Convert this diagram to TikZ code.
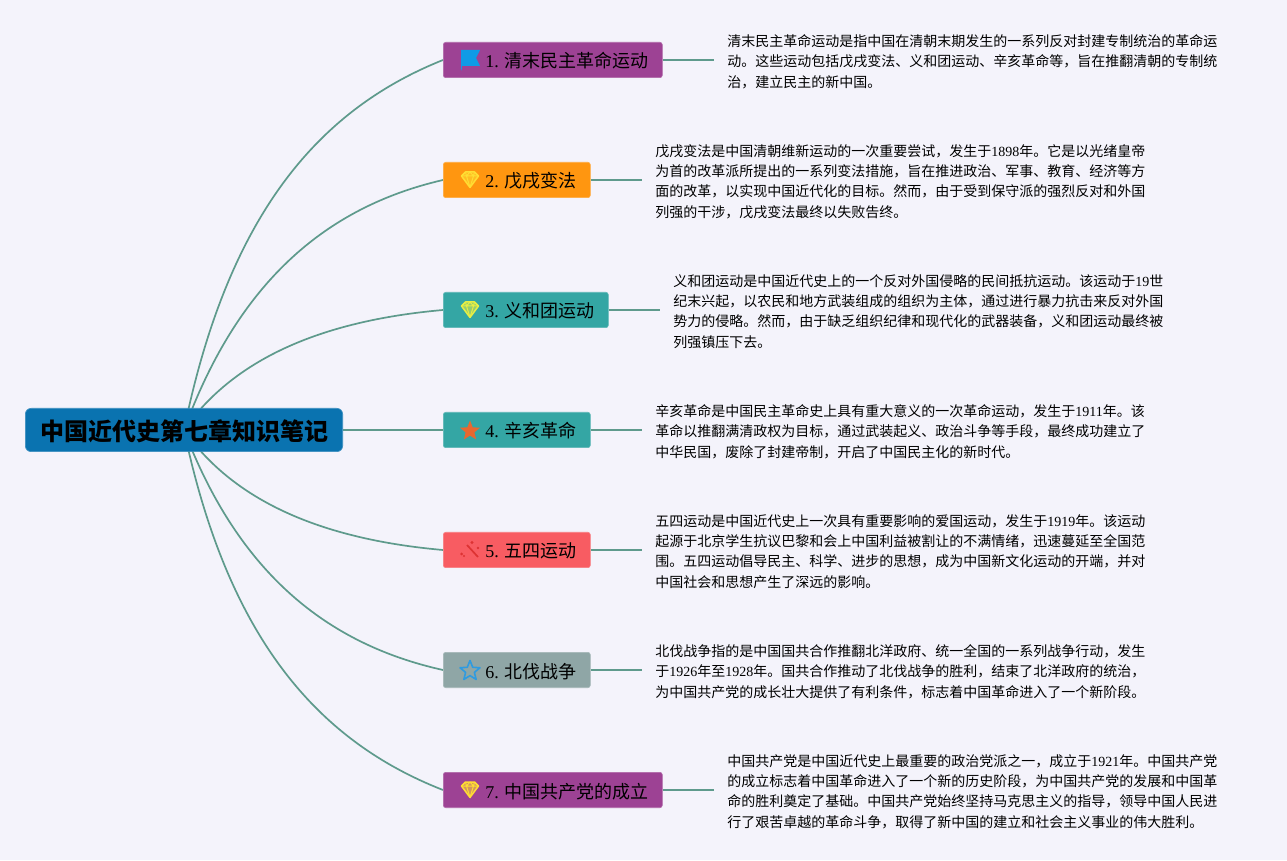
\documentclass[tikz,border=0pt]{standalone}
\usepackage{fontspec}
\setmainfont{Noto Sans CJK SC}
\newfontfamily\latin{Liberation Serif}
\newcommand{\lat}[1]{{\latin #1}}
\usetikzlibrary{positioning,backgrounds}
\definecolor{pagebg}{HTML}{F4F3FB}
\definecolor{linecol}{HTML}{5E9A8C}
\definecolor{rootcol}{HTML}{0A73B0}
\definecolor{purplecol}{HTML}{9D4294}
\definecolor{orangecol}{HTML}{FF9610}
\definecolor{tealcol}{HTML}{34A6A4}
\definecolor{redcol}{HTML}{F85C62}
\definecolor{greycol}{HTML}{8FA6A6}
\definecolor{iconblue}{HTML}{0F9BE6}
\definecolor{iconyellow}{HTML}{FFDD33}
\definecolor{iconlime}{HTML}{E8EE44}
\definecolor{iconorange}{HTML}{E8682F}
\definecolor{iconred}{HTML}{DD3333}
\definecolor{iconsky}{HTML}{2F9BE0}
\tikzset{
  gem/.pic={
    \fill[#1,opacity=.55] (-8.5,4) -- (-4.5,8) -- (4.5,8) -- (8.5,4) -- (0,-7.5) -- cycle;
    \draw[#1,line width=1.5pt,line join=round] (-8.5,4) -- (-4.5,8) -- (4.5,8) -- (8.5,4) -- (0,-7.5) -- cycle;
    \draw[#1,line width=1pt,line join=round] (-8.5,4) -- (8.5,4) (-4.5,8) -- (-3.5,4) -- (0,-7.5) -- (3.5,4) -- (4.5,8) (-3.5,4) -- (0,8) -- (3.5,4);
  },
  flag/.pic={
    \fill[#1] (-9,10) -- (10,10) -- (6,2) -- (10,-6) -- (-8,-6) -- (-8.4,-10.5) -- (-9,-10.5) -- cycle;
  },
  starpic/.pic={
    \path[#1,line join=round,yshift=-1pt] (90:10.5)
      \foreach \a in {126,162,...,414} {
        -- (\a:{ifthenelse(mod(\a-90,72)==0,10.5,4.6)})
      } -- cycle;
  },
  wand/.pic={
    \draw[#1,line width=1.7pt] (-3,5) -- (8,-7);
    \fill[#1] (-8.5,-4) circle (1.5) (-6,-6) circle (1.2) (2,7.5) circle (1.6) (8,2) circle (1.3);
  }
}
\begin{document}
\begin{tikzpicture}[
  x=1pt, y=1pt,
  rootbox/.style={rectangle, rounded corners=6pt, fill=rootcol, draw=rootcol!80!white, line width=.6pt, minimum width=317.4pt, minimum height=43.4pt, inner sep=0pt, text height=22pt, text depth=1pt, font=\fontsize{24}{24}\selectfont\bfseries},
  topicbox/.style={rectangle, rounded corners=2.5pt, fill=#1, draw=#1!80!white, line width=.6pt, minimum height=35.4pt, inner ysep=0pt, inner xsep=13.5pt, text height=17pt, text depth=1pt, font=\fontsize{18}{18}\selectfont},
  notetext/.style={inner sep=0pt, align=left, yshift=-1.5pt, font=\fontsize{14}{20.3}\selectfont},
  branch/.style={draw=linecol, line width=1.7pt}
]
\useasboundingbox (0,0) rectangle (1287,860);

\node[rootbox] (root) at (184,430) {中国近代史第七章知识笔记};

\node[topicbox=purplecol, anchor=west] (t1) at (443,800) {\hspace*{28.5pt}\lat{1. }清末民主革命运动};
\node[topicbox=orangecol, anchor=west] (t2) at (443,680) {\hspace*{28.5pt}\lat{2. }戊戌变法};
\node[topicbox=tealcol, anchor=west] (t3) at (443,550) {\hspace*{28.5pt}\lat{3. }义和团运动};
\node[topicbox=tealcol, anchor=west] (t4) at (443,430) {\hspace*{28.5pt}\lat{4. }辛亥革命};
\node[topicbox=redcol, anchor=west] (t5) at (443,310) {\hspace*{28.5pt}\lat{5. }五四运动};
\node[topicbox=greycol, anchor=west] (t6) at (443,190) {\hspace*{28.5pt}\lat{6. }北伐战争};
\node[topicbox=purplecol, anchor=west] (t7) at (443,70) {\hspace*{28.5pt}\lat{7. }中国共产党的成立};

\node[notetext, right=64.6pt of t1] (n1) {清末民主革命运动是指中国在清朝末期发生的一系列反对封建专制统治的革命运\\动。这些运动包括戊戌变法、义和团运动、辛亥革命等，旨在推翻清朝的专制统\\治，建立民主的新中国。};
\node[notetext, right=64.6pt of t2] (n2) {戊戌变法是中国清朝维新运动的一次重要尝试，发生于\lat{1898}年。它是以光绪皇帝\\为首的改革派所提出的一系列变法措施，旨在推进政治、军事、教育、经济等方\\面的改革，以实现中国近代化的目标。然而，由于受到保守派的强烈反对和外国\\列强的干涉，戊戌变法最终以失败告终。};
\node[notetext, right=64.6pt of t3] (n3) {义和团运动是中国近代史上的一个反对外国侵略的民间抵抗运动。该运动于\lat{19}世\\纪末兴起，以农民和地方武装组成的组织为主体，通过进行暴力抗击来反对外国\\势力的侵略。然而，由于缺乏组织纪律和现代化的武器装备，义和团运动最终被\\列强镇压下去。};
\node[notetext, right=64.6pt of t4] (n4) {辛亥革命是中国民主革命史上具有重大意义的一次革命运动，发生于\lat{1911}年。该\\革命以推翻满清政权为目标，通过武装起义、政治斗争等手段，最终成功建立了\\中华民国，废除了封建帝制，开启了中国民主化的新时代。};
\node[notetext, right=64.6pt of t5] (n5) {五四运动是中国近代史上一次具有重要影响的爱国运动，发生于\lat{1919}年。该运动\\起源于北京学生抗议巴黎和会上中国利益被割让的不满情绪，迅速蔓延至全国范\\围。五四运动倡导民主、科学、进步的思想，成为中国新文化运动的开端，并对\\中国社会和思想产生了深远的影响。};
\node[notetext, right=64.6pt of t6] (n6) {北伐战争指的是中国国共合作推翻北洋政府、统一全国的一系列战争行动，发生\\于\lat{1926}年至\lat{1928}年。国共合作推动了北伐战争的胜利，结束了北洋政府的统治，\\为中国共产党的成长壮大提供了有利条件，标志着中国革命进入了一个新阶段。};
\node[notetext, right=64.6pt of t7] (n7) {中国共产党是中国近代史上最重要的政治党派之一，成立于\lat{1921}年。中国共产党\\的成立标志着中国革命进入了一个新的历史阶段，为中国共产党的发展和中国革\\命的胜利奠定了基础。中国共产党始终坚持马克思主义的指导，领导中国人民进\\行了艰苦卓越的革命斗争，取得了新中国的建立和社会主义事业的伟大胜利。};

\pic at ([xshift=27pt]t1.west) {flag={iconblue}};
\pic at ([xshift=27pt]t2.west) {gem={iconyellow}};
\pic at ([xshift=27pt]t3.west) {gem={iconlime}};
\pic at ([xshift=27pt]t4.west) {starpic={fill=iconorange}};
\pic at ([xshift=27pt]t5.west) {wand={iconred}};
\pic at ([xshift=27pt]t6.west) {starpic={draw=iconsky,line width=1.6pt}};
\pic at ([xshift=27pt]t7.west) {gem={iconyellow}};

\begin{scope}[on background layer]
\fill[pagebg] (0,0) rectangle (1287,860);
\path[branch] (root.center) .. controls +(44,215) and +(-125,-50) .. (t1.west);
\path[branch] (root.center) .. controls +(54,148) and +(-117,-27) .. (t2.west);
\path[branch] (root.center) .. controls +(48,69) and +(-125,-11) .. (t3.west);
\path[branch] (root) -- (t4);
\path[branch] (root.center) .. controls +(48,-69) and +(-125,11) .. (t5.west);
\path[branch] (root.center) .. controls +(54,-142) and +(-117,26) .. (t6.west);
\path[branch] (root.center) .. controls +(44,-209) and +(-125,49) .. (t7.west);
\end{scope}
\foreach \i in {1,...,7} {
  \coordinate[right=51pt of t\i.east] (s\i);
  \path[branch] (t\i.east) -- (s\i);
}
\end{tikzpicture}
\end{document}
